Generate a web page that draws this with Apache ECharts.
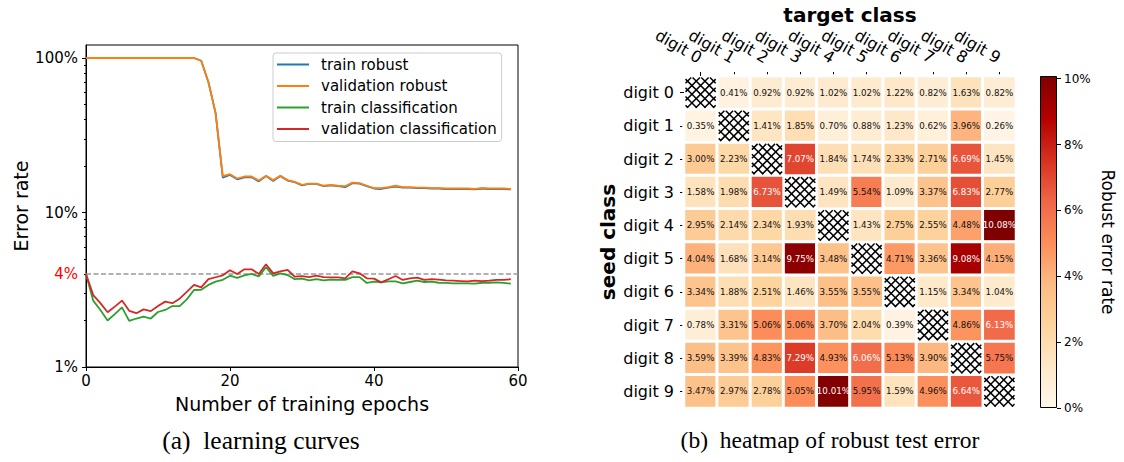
<!DOCTYPE html>
<html><head><meta charset="utf-8">
<script src="https://cdn.jsdelivr.net/npm/echarts@6/dist/echarts.min.js"></script>
<style>html,body{margin:0;padding:0;background:#fff}#c{width:1124px;height:462px}</style>
</head><body><div id="c"></div>
<script>
// ---------- data: learning curves ----------
const trainRobust = [1,1,1,1,1,1,1,1,1,1,1,1,1,1,1,1,
  0.96,0.70,0.44,0.168,0.175,0.164,0.169,0.169,0.159,0.172,0.160,0.172,0.161,0.157,
  0.150,0.153,0.153,0.148,0.150,0.148,0.146,0.155,0.154,0.148,
  0.143,0.142,0.145,0.147,0.145,0.145,0.144,0.144,0.143,0.143,
  0.142,0.142,0.142,0.142,0.141,0.143,0.142,0.142,0.142,0.141];
const valRobust = [1,1,1,1,1,1,1,1,1,1,1,1,1,1,1,1,
  0.96,0.70,0.44,0.172,0.177,0.166,0.171,0.171,0.161,0.173,0.162,0.173,0.162,0.158,
  0.151,0.154,0.154,0.149,0.151,0.149,0.148,0.156,0.155,0.149,
  0.144,0.144,0.146,0.149,0.146,0.146,0.145,0.145,0.144,0.144,
  0.143,0.143,0.143,0.143,0.142,0.144,0.143,0.143,0.143,0.142];
const trainCls = [0.040,0.0269,0.0234,0.0200,0.0220,0.0243,0.0199,0.0206,0.0212,0.0206,
  0.0227,0.0234,0.0248,0.0248,0.0274,0.0315,0.0316,0.0340,0.0357,0.0367,
  0.0390,0.0378,0.0392,0.0400,0.0386,0.0442,0.0389,0.0404,0.0394,0.0370,
  0.0373,0.0364,0.0371,0.0364,0.0368,0.0366,0.0366,0.0382,0.0382,0.0350,
  0.0357,0.0353,0.0358,0.0358,0.0348,0.0355,0.0362,0.0355,0.0357,0.0351,
  0.0350,0.0348,0.0348,0.0348,0.0346,0.0351,0.0351,0.0353,0.0350,0.0346];
const valCls = [0.040,0.0292,0.0259,0.0226,0.0246,0.0269,0.0231,0.0223,0.0236,0.0230,
  0.0248,0.0265,0.0259,0.0277,0.0306,0.0340,0.0328,0.0370,0.0381,0.0392,
  0.0423,0.0400,0.0429,0.0429,0.0400,0.0462,0.0404,0.0416,0.0425,0.0384,
  0.0387,0.0382,0.0390,0.0382,0.0380,0.0380,0.0375,0.0416,0.0404,0.0375,
  0.0373,0.0353,0.0370,0.0388,0.0366,0.0375,0.0379,0.0366,0.0371,0.0368,
  0.0364,0.0362,0.0360,0.0358,0.0362,0.0360,0.0362,0.0366,0.0366,0.0370];
const seriesNames = ['train robust','validation robust','train classification','validation classification'];
const xTickValues = [0, 20, 40, 60];
const yMajorTicks = [0.01, 0.1, 1];
const yMinorTicks = [0.02,0.03,0.04,0.05,0.06,0.07,0.08,0.09,0.2,0.3,0.4,0.5,0.6,0.7,0.8,0.9];
const yLabelValues = [0.01, 0.04, 0.1, 1];
const refLevel = 0.04;

// ---------- data: heatmap ----------
const digitLabels = ['digit 0','digit 1','digit 2','digit 3','digit 4','digit 5','digit 6','digit 7','digit 8','digit 9'];
const heatRows = [
  [null,0.41,0.92,0.92,1.02,1.02,1.22,0.82,1.63,0.82],
  [0.35,null,1.41,1.85,0.70,0.88,1.23,0.62,3.96,0.26],
  [3.00,2.23,null,7.07,1.84,1.74,2.33,2.71,6.69,1.45],
  [1.58,1.98,6.73,null,1.49,5.54,1.09,3.37,6.83,2.77],
  [2.95,2.14,2.34,1.93,null,1.43,2.75,2.55,4.48,10.08],
  [4.04,1.68,3.14,9.75,3.48,null,4.71,3.36,9.08,4.15],
  [3.34,1.88,2.51,1.46,3.55,3.55,null,1.15,3.34,1.04],
  [0.78,3.31,5.06,5.06,3.70,2.04,0.39,null,4.86,6.13],
  [3.59,3.39,4.83,7.29,4.93,6.06,5.13,3.90,null,5.75],
  [3.47,2.97,2.78,5.05,10.01,5.95,1.59,4.96,6.64,null]
];
const cbMin = 0, cbMax = 10.08;
const cbTicks = [0, 2, 4, 6, 8, 10];
const orrd = ['#fff7ec','#fee8c8','#fdd49e','#fdbb84','#fc8d59','#ef6548','#d7301f','#b30000','#7f0000'];

// ---------- build ----------
const FONT = 'DejaVu Sans';
const pairs = arr => arr.map((v, i) => [i, v]);
const heatData = [], diagData = [];
heatRows.forEach((row, i) => row.forEach((v, j) => {
  if (v === null) diagData.push([j, i]);
  else heatData.push({ value: [j, i, v], label: { color: v > 6 ? '#fff' : '#111' } });
}));
const pct = v => Math.round(v * 100) + '%';

const chart = echarts.init(document.getElementById('c'), null, { renderer: 'svg' });
const lineColors = ['#1f77b4', '#ff7f0e', '#2ca02c', '#d62728'];
const lineData = [trainRobust, valRobust, trainCls, valCls];

const option = {
  animation: false,
  backgroundColor: '#fff',
  textStyle: { fontFamily: FONT },
  grid: [
    { left: 86, top: 45, width: 432, height: 322, show: true, borderColor: '#000', borderWidth: 1, backgroundColor: 'transparent', outerBoundsMode: 'none', containLabel: false },
    { left: 684, top: 76, width: 332, height: 332, outerBoundsMode: 'none', containLabel: false },
    { left: 1040, top: 76, width: 17, height: 332, outerBoundsMode: 'none', containLabel: false }
  ],
  legend: {
    orient: 'vertical', left: 273, top: 53, data: seriesNames,
    icon: 'rect', itemWidth: 32, itemHeight: 2, itemGap: 6.5,
    textStyle: { fontSize: 15, fontFamily: FONT, color: '#000', padding: [0, 0, 0, 7] },
    borderColor: '#ccc', borderWidth: 1, borderRadius: 3, padding: [4, 5, 5, 4],
    backgroundColor: 'rgba(255,255,255,0.8)'
  },
  visualMap: {
    show: false, seriesIndex: 4, min: cbMin, max: cbMax, dimension: 2,
    inRange: { color: orrd }
  },
  xAxis: [
    { gridIndex: 0, type: 'value', min: 0, max: 60, interval: 20,
      name: 'Number of training epochs', nameLocation: 'middle', nameGap: 27,
      nameTextStyle: { fontSize: 19, color: '#000', fontFamily: FONT },
      axisLine: { lineStyle: { color: '#000', width: 1 } },
      axisTick: { length: 4, lineStyle: { color: '#000' } },
      axisLabel: { fontSize: 15, color: '#000', margin: 6, fontFamily: FONT },
      splitLine: { show: false } },
    { gridIndex: 1, type: 'category', data: digitLabels, position: 'top',
      name: 'target class', nameLocation: 'middle', nameGap: 51, nameMoveOverlap: false,
      nameTextStyle: { fontSize: 20, fontWeight: 'bold', color: '#000', fontFamily: FONT },
      axisLine: { show: false },
      axisTick: { show: true, alignWithLabel: true, length: 4, lineStyle: { color: '#000' } },
      axisLabel: { fontSize: 16, color: '#000', rotate: 30, margin: 17, interval: 0, fontFamily: FONT,
        align: 'right', verticalAlign: 'middle' },
      splitLine: { show: false } },
    { gridIndex: 2, type: 'category', data: [''], show: false }
  ],
  yAxis: [
    { gridIndex: 0, type: 'log', logBase: 10, min: 0.01, max: 1.214,
      name: 'Error rate', nameLocation: 'middle', nameGap: 56,
      nameTextStyle: { fontSize: 19, color: '#000', fontFamily: FONT },
      axisLine: { show: true, lineStyle: { color: '#000', width: 1 } },
      axisTick: { show: true, length: 4, customValues: yMajorTicks, lineStyle: { color: '#000' } },
      axisLabel: { fontSize: 15, color: '#000', margin: 8, customValues: yLabelValues, fontFamily: FONT,
        formatter: v => { const s = pct(v); return Math.abs(v - refLevel) < 1e-6 ? '{r|' + s + '}' : s; },
        rich: { r: { color: '#ff0000', fontSize: 15, fontFamily: FONT } } },
      splitLine: { show: false } },
    { gridIndex: 0, type: 'log', logBase: 10, min: 0.01, max: 1.214, position: 'left',
      axisLine: { show: false },
      axisTick: { show: true, length: 2, customValues: yMinorTicks, lineStyle: { color: '#000' } },
      axisLabel: { show: false }, splitLine: { show: false } },
    { gridIndex: 1, type: 'category', data: digitLabels, inverse: true,
      name: 'seed class', nameLocation: 'middle', nameGap: 66,
      nameTextStyle: { fontSize: 20, fontWeight: 'bold', color: '#000', fontFamily: FONT },
      axisLine: { show: false },
      axisTick: { show: true, alignWithLabel: true, length: 4, lineStyle: { color: '#000' } },
      axisLabel: { fontSize: 16, color: '#000', margin: 10, interval: 0, fontFamily: FONT },
      splitLine: { show: false } },
    { gridIndex: 2, type: 'value', min: cbMin, max: cbMax, position: 'right',
      name: 'Robust error rate', nameLocation: 'middle', nameGap: 42, nameRotate: -90,
      nameTextStyle: { fontSize: 17, color: '#000', fontFamily: FONT },
      axisLine: { show: false },
      axisTick: { show: true, length: 4, customValues: cbTicks, lineStyle: { color: '#000' } },
      axisLabel: { fontSize: 12, color: '#000', margin: 7, customValues: cbTicks, formatter: v => v + '%', fontFamily: FONT },
      splitLine: { show: false } }
  ],
  series: [
    ...lineData.map((arr, k) => ({
      name: seriesNames[k], type: 'line', xAxisIndex: 0, yAxisIndex: 0,
      data: pairs(arr), symbol: 'none', color: lineColors[k],
      lineStyle: { width: 1.8, color: lineColors[k] }, z: 3 + k,
      markLine: k === 0 ? {
        silent: true, symbol: 'none', label: { show: false },
        lineStyle: { type: [5, 2.5], color: '#999', width: 1.6 },
        data: [{ yAxis: refLevel }]
      } : undefined
    })),
    { type: 'heatmap', xAxisIndex: 1, yAxisIndex: 2, data: heatData,
      itemStyle: { borderColor: '#fff', borderWidth: 3 },
      label: { show: true, fontSize: 8.7, fontFamily: FONT, formatter: p => p.value[2].toFixed(2) + '%' },
      emphasis: { disabled: true } },
    { type: 'custom', xAxisIndex: 1, yAxisIndex: 2, data: diagData, encode: { x: 0, y: 1 },
      renderItem: (params, api) => {
        const c = api.coord([api.value(0), api.value(1)]);
        const s = api.size([1, 1]);
        const w = s[0] - 3;
        const x0 = c[0] - s[0] / 2 + 1.5, y0 = c[1] - s[1] / 2 + 1.5;
        const step = 8.7, children = [];
        const st = { stroke: '#000', lineWidth: 1.5 };
        for (let d = -w + 2.5; d < w; d += step) {
          const xa = x0 + Math.max(0, d), ya = y0 + Math.max(0, -d);
          const xb = x0 + Math.min(w, w + d), yb = y0 + Math.min(w - d, w);
          children.push({ type: 'line', shape: { x1: xa, y1: ya, x2: xb, y2: yb }, style: st });
          children.push({ type: 'line', shape: { x1: 2 * x0 + w - xa, y1: ya, x2: 2 * x0 + w - xb, y2: yb }, style: st });
        }
        return { type: 'group', children };
      } },
    { type: 'bar', xAxisIndex: 2, yAxisIndex: 3, data: [cbMax], barWidth: '100%', silent: true,
      itemStyle: {
        borderColor: '#000', borderWidth: 1,
        color: new echarts.graphic.LinearGradient(0, 1, 0, 0, orrd.map((c, i) => ({ offset: i / (orrd.length - 1), color: c })))
      } }
  ],
  graphic: [
    { type: 'text', x: 261, y: 440, style: { text: '(a)  learning curves', font: '25.5px "Liberation Serif"', fill: '#000', textAlign: 'center', textVerticalAlign: 'middle' } },
    { type: 'text', x: 830, y: 440, style: { text: '(b)  heatmap of robust test error', font: '23.5px "Liberation Serif"', fill: '#000', textAlign: 'center', textVerticalAlign: 'middle' } }
  ]
};
chart.setOption(option);
</script></body></html>
